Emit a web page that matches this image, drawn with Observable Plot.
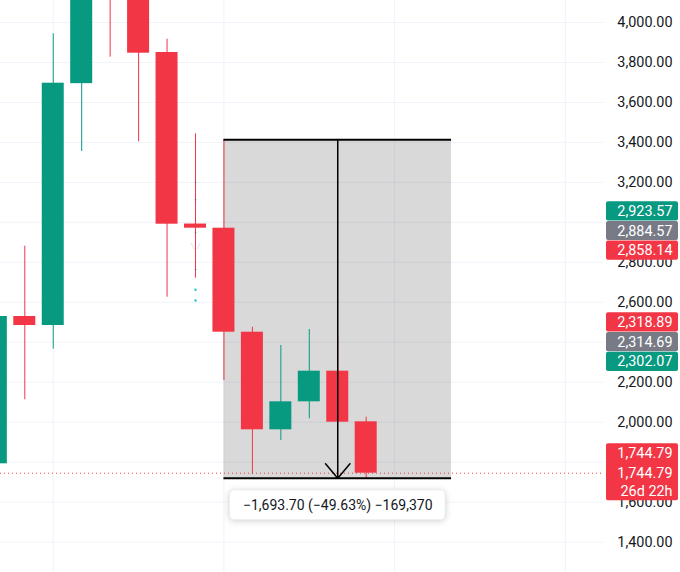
<!DOCTYPE html>
<html><head><meta charset="utf-8">
<script src="https://cdn.jsdelivr.net/npm/d3@7"></script>
<script src="https://cdn.jsdelivr.net/npm/@observablehq/plot@0.6"></script>
<style>html,body{margin:0;padding:0;background:#fff;overflow:hidden}</style>
</head><body><div id="chart"></div>
<script>
// ---- data ----
const candleIndex = [0, 1, 2, 3, 4, 5, 6, 7, 8, 9, 10, 11, 12, 13];
const opens  = [1791.8, 2528.9, 2483.8, 3694.0, 4250.0, 4180.0, 3849.9, 2991.5, 2970.7, 2450.3, 1961.9, 2102.0, 2255.2, 2002.0];
const highs  = [2560.0, 2880.6, 3943.5, 4380.0, 4500.0, 4300.0, 3916.4, 3443.1, 3412.7, 2475.3, 2383.8, 2463.8, 2425.3, 2025.0];
const lows   = [1760.0, 2112.1, 2365.3, 3354.5, 3826.4, 3403.0, 2625.5, 2720.5, 2208.6, 1738.3, 1908.4, 2017.0, 1995.0, 1717.0];
const closes = [2528.9, 2483.8, 3696.3, 4250.0, 4180.0, 3846.4, 2990.7, 2970.7, 2450.3, 1961.9, 2102.0, 2255.2, 1999.9, 1744.79];

const gridValues = [4000, 3800, 3600, 3400, 3200, 3000, 2800, 2600, 2400, 2200, 2000, 1800, 1600, 1400];
// price-scale tick labels not fully covered by the coloured price labels
const tickLabels = [4000, 3800, 3600, 3400, 3200, 2800, 2600, 2200, 2000, 1600, 1400];
const timeGridIndex = [2, 8, 14, 20];
const lastPrice = 1744.79;

// indicator marks on bar 7
const markerBar = 7;
const darkDotValues = [3200.9, 3112.8, 2947.7, 2764.1];
const chevronValues = [2879.2];
const tealDotValues = [2662.5, 2609.0];

// price-measure drawing
const measureStartBar = 8, measureEndBar = 16, measureMidBar = 12;
const measureFrom = 3412.7, measureTo = 1719.0;
const measureText = "\u22121,693.70 (\u221249.63%) \u2212169,370";

// right price-scale labels
const upperLabelValues = [2923.57, 2884.57, 2858.14];
const upperLabelKinds  = ["up", "neutral", "down"];
const lowerLabelValues = [2318.89, 2314.69, 2302.07];
const lowerLabelKinds  = ["down", "neutral", "up"];
const lastLabelLines = ["1,744.79", "1,744.79", "26d 22h"];

// ---- layout / styles ----
const W = 680, H = 572, plotRight = 603;
const GREEN = "#089981", RED = "#f23645", GRAY = "#787b86", INK = "#131722", GRID = "#f0f3fa";
const kindColor = {up: GREEN, down: RED, neutral: GRAY};
const FONT = "Roboto, 'Noto Sans', sans-serif";
const FS = 14.4;

const xDomain = [0.1459, 21.341];
const yDomain = [1247.9, 4110.1];
const xScale = Plot.scale({x: {domain: xDomain, range: [0, plotRight]}});
const yScale = Plot.scale({y: {domain: yDomain, range: [H, 0]}});

const candles = candleIndex.map((i, k) => ({i, open: opens[k], high: highs[k], low: lows[k], close: closes[k]}));
const cColor = d => d.close >= d.open ? GREEN : RED;
const halfBody = 0.3866;

const fmt = d3.format(",.2f");

function stackLabels(values, kinds) {
  const n = values.length;
  const bottom = yScale.apply(values[n - 1]);
  return values.map((v, j) => ({value: v, kind: kinds[j], py: bottom - (n - 1 - j) * 19.7}));
}
const priceLabels = [...stackLabels(upperLabelValues, upperLabelKinds), ...stackLabels(lowerLabelValues, lowerLabelKinds)];
const boxX1 = xScale.invert(606), boxX2 = xScale.invert(678);

const lastPy = yScale.apply(lastPrice);
const lastBox = [{y1: yScale.invert(lastPy + 27.5), y2: yScale.invert(lastPy - 29.5)}];
const lastLines = lastLabelLines.map((t, j) => ({t, py: lastPy + [-20, 0, 18.5][j]}));

const midPx = xScale.apply(measureMidBar);
const botPx = yScale.apply(measureTo);
const mBox = [{x1: xScale.invert(midPx - 108), x2: xScale.invert(midPx + 108),
               y1: yScale.invert(botPx + 42), y2: yScale.invert(botPx + 12)}];

const chart = Plot.plot({
  width: W, height: H,
  marginLeft: 0, marginRight: W - plotRight, marginTop: 0, marginBottom: 0,
  x: {domain: xDomain, axis: null},
  y: {domain: yDomain, axis: null},
  style: {fontFamily: FONT, background: "white"},
  marks: [
    Plot.ruleY(gridValues, {stroke: GRID, strokeWidth: 1}),
    Plot.ruleX(timeGridIndex, {stroke: GRID, strokeWidth: 1}),
    Plot.rect([0], {x1: () => measureStartBar, x2: () => measureEndBar, y1: () => measureTo, y2: () => measureFrom, fill: "#000", fillOpacity: 0.15}),
    Plot.ruleY([lastPrice], {stroke: RED, strokeWidth: 1, strokeDasharray: "1,3"}),
    Plot.ruleX(candles, {x: "i", y1: "low", y2: "high", stroke: cColor, strokeWidth: 1}),
    Plot.rect(candles, {x1: d => d.i - halfBody, x2: d => d.i + halfBody, y1: "open", y2: "close", fill: cColor}),
    Plot.dot(darkDotValues, {x: () => markerBar, y: d => d, r: 0.8, fill: "#5d606b", stroke: "none"}),
    Plot.text(chevronValues, {x: () => markerBar, y: d => d, text: () => "\u2572  \u2571", fontSize: 5, fill: "#c0c3cc"}),
    Plot.dot(tealDotValues, {x: () => markerBar, y: d => d, r: 1.2, fill: "#26c6da", stroke: "none"}),
    Plot.ruleY([measureFrom, measureTo], {x1: measureStartBar, x2: measureEndBar, stroke: "#000", strokeWidth: 2}),
    Plot.arrow([0], {x1: () => measureMidBar, x2: () => measureMidBar, y1: () => measureFrom, y2: () => measureTo, stroke: "#000", strokeWidth: 1.5, headLength: 19, headAngle: 80}),
    Plot.rect(mBox, {x1: "x1", x2: "x2", y1: "y1", y2: "y2", fill: "white", stroke: "#e0e3eb", strokeWidth: 0.6, rx: 5, imageFilter: "drop-shadow(0 1px 3px rgba(0,0,0,0.18))"}),
    Plot.text([measureText], {x: () => measureMidBar, y: () => yScale.invert(botPx + 27.5), text: d => d, fontSize: 14, fill: INK}),
    Plot.text(tickLabels, {y: d => d, text: d => fmt(d), frameAnchor: "right", dx: 69, textAnchor: "end", fontSize: FS, fill: INK}),
    Plot.rect(priceLabels, {x1: () => boxX1, x2: () => boxX2, y1: d => yScale.invert(d.py + 9.6), y2: d => yScale.invert(d.py - 9.6), fill: d => kindColor[d.kind], rx: 2}),
    Plot.text(priceLabels, {y: d => yScale.invert(d.py), text: d => fmt(d.value), frameAnchor: "right", dx: 69, textAnchor: "end", fontSize: FS, fill: "white"}),
    Plot.rect(lastBox, {x1: () => boxX1, x2: () => boxX2, y1: "y1", y2: "y2", fill: RED, rx: 2}),
    Plot.text(lastLines, {y: d => yScale.invert(d.py), text: "t", frameAnchor: "right", dx: 69, textAnchor: "end", fontSize: FS, fill: "white"})
  ]
});
document.getElementById("chart").appendChild(chart);
</script>
</body></html>
